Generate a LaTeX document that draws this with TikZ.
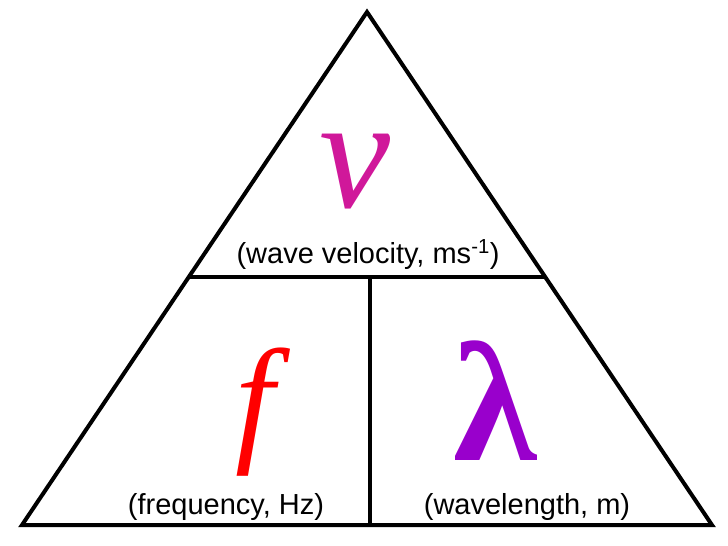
\documentclass[tikz,border=0pt]{standalone}
\usepackage{fontspec}
\setmainfont{Liberation Sans}
\newfontfamily\serifit{Liberation Serif}
\definecolor{vcol}{HTML}{D0189A}
\definecolor{fcol}{HTML}{FF0000}
\definecolor{lcol}{HTML}{9900CC}
\begin{document}
\begin{tikzpicture}[x=1pt,y=-1pt,line width=4pt,
  lab/.style={font=\fontsize{29}{32}\selectfont,inner sep=0},
  big/.style={inner sep=0}]
\useasboundingbox (0,0) rectangle (728,546);
\coordinate (A) at (367,12);
\coordinate (B) at (22,525);
\coordinate (C) at (712,525);
\coordinate (L) at (189,277);
\coordinate (R) at (545,277);
\coordinate (T) at (370,277);
\coordinate (Bm) at (370,525);
\draw[line join=miter] (A) -- (B) -- (C) -- cycle;
\draw (L) -- (R);
\draw (T) -- (Bm);
\node[big,text=vcol,font=\serifit\itshape\fontsize{160}{160}\selectfont,anchor=base] (v) at (355,207) {v};
\node[lab,anchor=base] (vl) at (368,263) {(wave velocity, ms\textsuperscript{-1})};
\node[big,text=fcol,font=\serifit\itshape\fontsize{140}{140}\selectfont,anchor=base] (f) at (255,446) {f};
\node[lab,anchor=base] (fl) at (226,514) {(frequency, Hz)};
\node[big,text=lcol,font=\serifit\bfseries\fontsize{170}{170}\selectfont,anchor=base] (l) at (495,460) {λ};
\node[lab,anchor=base] (ll) at (527,514) {(wavelength, m)};
\end{tikzpicture}
\end{document}
